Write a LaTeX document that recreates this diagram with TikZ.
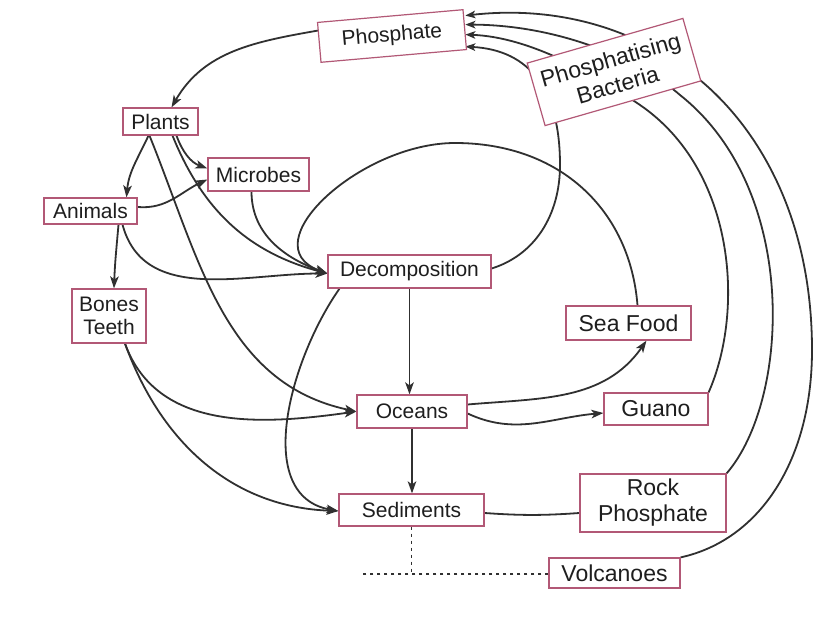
\documentclass[tikz,border=0pt]{standalone}
\usepackage{fontspec}
\setmainfont{Liberation Sans}
\usetikzlibrary{arrows.meta,calc}
\pgfdeclarelayer{bg}
\pgfsetlayers{bg,main}
\definecolor{boxc}{RGB}{178,88,118}
\definecolor{edgec}{RGB}{48,48,48}
\definecolor{txtc}{RGB}{30,30,30}
\newcommand\fsA{\fontsize{21}{23}\selectfont}
\newcommand\fsB{\fontsize{23}{26}\selectfont}
\begin{document}
\begin{tikzpicture}[x=1pt,y=1pt,
  box/.style={draw=boxc,line width=1.2pt,fill=white,inner sep=0pt,text=txtc,align=center,font=\fsA},
  big/.style={font=\fsB},
  arr/.style={draw=edgec,line width=1.8pt,-{Stealth[length=12pt,width=8.5pt,inset=3pt]}},
  ln/.style={draw=edgec,line width=1.8pt},
  parr/.style={draw=edgec,line width=1.8pt,-{Stealth[length=10pt,width=7.5pt,inset=2.5pt]}},
  dsh/.style={draw=edgec,line width=1.8pt,dash pattern=on 3.5pt off 3.5pt}
]
\useasboundingbox (0,0) rectangle (817,-623);

% nodes
\node[box,minimum width=146pt,minimum height=40pt,rotate=5] (phos) at (392,-36) {Phosphate};
\node[box,minimum width=75pt,minimum height=27pt] (plants) at (160.5,-121.5) {Plants};
\node[box,minimum width=101pt,minimum height=33pt] (microbes) at (258.5,-174.5) {Microbes};
\node[box,minimum width=93pt,minimum height=26pt] (animals) at (90.5,-211) {Animals};
\node[box,minimum width=74pt,minimum height=54pt] (bones) at (109,-316) {Bones\\Teeth};
\node[box,minimum width=163pt,minimum height=33pt] (decomp) at (409.5,-271.5) {Decomposition};
\node[box,big,minimum width=125pt,minimum height=34pt] (seafood) at (628.5,-323) {Sea Food};
\node[box,big,minimum width=104pt,minimum height=32pt] (guano) at (656,-409) {Guano};
\node[box,minimum width=110pt,minimum height=33pt] (oceans) at (412,-411.5) {Oceans};
\node[box,minimum width=145pt,minimum height=32pt] (sed) at (411.5,-510) {Sediments};
\node[box,big,minimum width=146pt,minimum height=58pt] (rock) at (653,-503) {Rock\\Phosphate};
\node[box,big,minimum width=131pt,minimum height=30pt] (volc) at (614.5,-573) {Volcanoes};
\node[box,big,minimum width=162pt,minimum height=65pt,rotate=16] (bact) at (614,-72) {Phosphatising\\Bacteria};

\coordinate (dl) at (360,-574);

\begin{pgfonlayer}{bg}
\fill[white] (0,0) rectangle (817,-623);

% Phosphate -> Plants
\draw[arr] ([yshift=12pt]phos.west) to[out=190,in=60] ([xshift=11pt]plants.north);
% Plants -> Animals, Microbes, Decomposition, Oceans
\draw[arr] ([xshift=-12pt]plants.south) to[out=245,in=85] ([xshift=36pt]animals.north);
\draw[arr] ([xshift=16pt]plants.south) to[out=290,in=160] ([yshift=6pt]microbes.west);
\draw[arr] ([xshift=12pt]plants.south) to[out=-68,in=165] ([yshift=-2pt]decomp.west);
\draw[arr] ([xshift=-11pt]plants.south) to[out=-68,in=168] (oceans.west);
% Animals -> Microbes, Bones, Decomposition
\draw[arr] ([yshift=4pt]animals.east) to[out=-5,in=205] ([yshift=-5pt]microbes.west);
\draw[arr] ([xshift=28pt]animals.south) to[out=265,in=88] ([xshift=5pt]bones.north);
\draw[arr] ([xshift=32pt]animals.south) to[out=285,in=180] ([yshift=-2pt]decomp.west);
% Microbes -> Decomposition
\draw[arr] ([xshift=-7pt]microbes.south) to[out=270,in=160] ([yshift=-2pt]decomp.west);
% Bones -> Oceans, Sediments
\draw[arr] ([xshift=16pt]bones.south) to[out=-70,in=188] (oceans.west);
\draw[arr] ([xshift=16pt]bones.south) to[out=-70,in=178] ([yshift=-1pt]sed.west);
% Decomposition -> Sediments, Oceans
\draw[arr] ([xshift=-70pt]decomp.south) to[out=235,in=170] ([yshift=-1pt]sed.west);
\draw[arr] (decomp.south) -- (decomp.south |- oceans.north);
% Oceans -> Sediments, Sea Food, Guano
\draw[arr] (oceans.south) -- (oceans.south |- sed.north);
\draw[arr] ([yshift=7pt]oceans.east) to[out=5,in=235] ([xshift=18pt]seafood.south);
\draw[arr] ([yshift=-2pt]oceans.east) to[out=-25,in=185] ([yshift=-4pt]guano.west);
% Sea Food -> Decomposition (loop)
\draw[arr] ([xshift=9pt]seafood.north) .. controls (630,-210) and (560,-143) .. (455,-143)
  .. controls (360,-143) and (250,-245) .. ([yshift=-2pt]decomp.west);
% Decomposition -> Phosphate
\draw[parr] ([yshift=3pt]decomp.east) .. controls (535,-255) and (560,-215) .. (560,-165)
  .. controls (560,-90) and (530,-50) .. ([yshift=-17pt]phos.east);
% Guano -> Phosphate
\draw[parr] (guano.north east) .. controls (745,-310) and (735,-170) .. (640,-105)
  .. controls (594,-74) and (530,-37) .. ([yshift=-5pt]phos.east);
% Rock Phosphate -> Phosphate
\draw[parr] (rock.north east) .. controls (790,-400) and (800,-190) .. (680,-95)
  .. controls (640,-60) and (560,-25) .. ([yshift=5pt]phos.east);
% Volcanoes -> Phosphate
\draw[parr] (volc.north east) .. controls (760,-540) and (812,-460) .. (812,-350)
  .. controls (812,-220) and (760,-130) .. (700,-80)
  .. controls (640,-30) and (560,-5) .. ([yshift=14pt]phos.east);
% Sediments -- Rock Phosphate
\draw[ln] ([yshift=-3pt]sed.east) to[bend right=4] ([yshift=-10pt]rock.west);
% dashed
\draw[dsh] (sed.south) -- (sed.south |- dl);
\draw[dsh] (volc.west |- dl) -- (dl);
\end{pgfonlayer}
\end{tikzpicture}
\end{document}
